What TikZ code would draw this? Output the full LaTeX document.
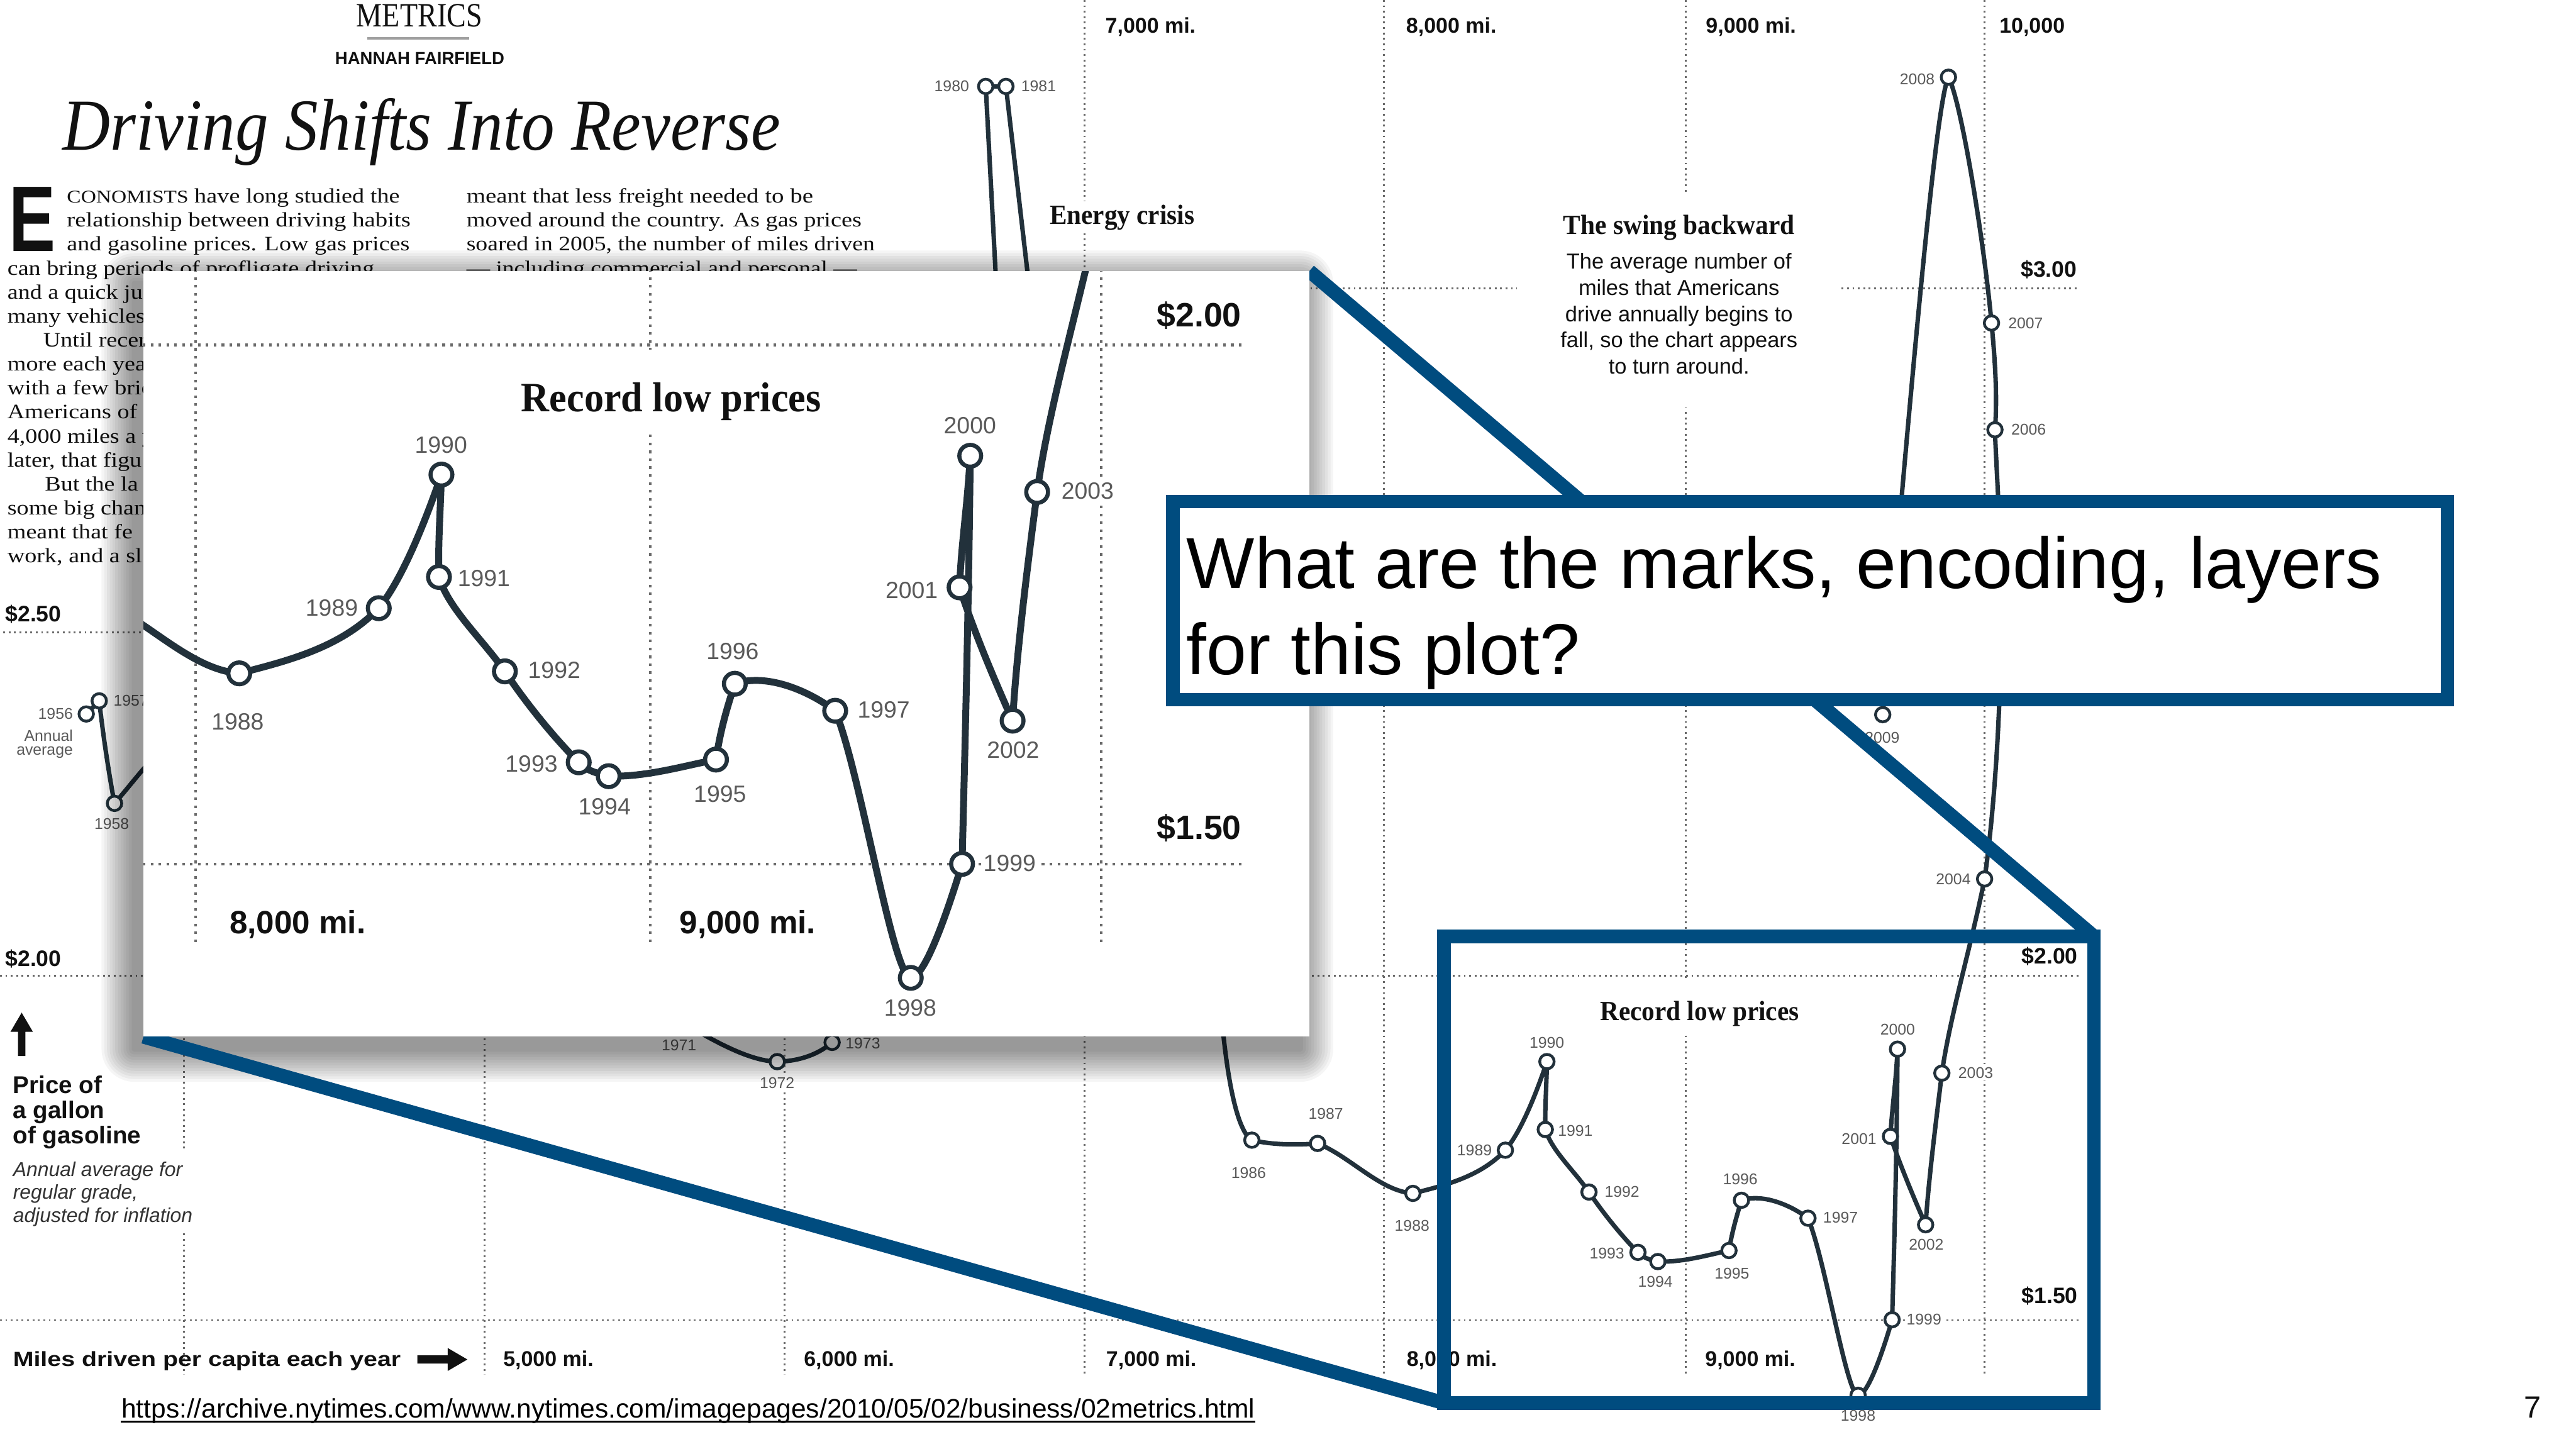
\documentclass[tikz,border=0pt]{standalone}
\usepackage{fontspec}
\usepackage{graphicx}
\setmainfont{Liberation Serif}
\newfontfamily\sansf{Liberation Sans}
\newfontfamily\artf[FakeStretch=1.17]{Liberation Serif}
\newlength\pxu
\setlength\pxu{0.02cm}
\newcommand\fw[2]{\resizebox{#1\pxu}{\height}{#2}}
\newcommand\fsz[1]{\fontsize{#1}{#1}\selectfont}
\definecolor{ink}{HTML}{22313B}
\definecolor{yrgray}{HTML}{5A5A5A}
\definecolor{gridc}{HTML}{6A6A6A}
\definecolor{qblue}{HTML}{004C7F}
\definecolor{txt}{HTML}{111111}
\definecolor{notec}{HTML}{333333}
\newcommand\hdfont{\bfseries\fsz{9.6}}
\newcommand\dolfont{\sansf\bfseries\fsz{7.75}}
\newcommand\mifont{\sansf\bfseries\fsz{7.4}}
\newcommand\pricefont{\sansf\bfseries\fsz{8.4}}
\newcommand\notefont{\sansf\itshape\fsz{6.95}}
\newcommand\bodyfont{\sansf\fsz{7.5}}
\newcommand\yrfont{\sansf\fsz{5.4}}
\tikzset{
  gridln/.style={draw=gridc, line width=1.1\pxu, dash pattern=on 1.1\pxu off 2.2\pxu},
  curve/.style={draw=ink, line width=2.7\pxu, line join=round, line cap=round},
  yrdot/.style={draw=ink, fill=white, line width=1.7\pxu},
  yrlab/.style={font=\yrfont, text=yrgray, fill=white, inner sep=0.8\pxu},
  lab/.style={inner sep=0, text=txt},
  art/.style={anchor=base west, inner sep=0, font={\artf\fsz{7.1}}, text=txt},
  bluerect/.style={draw=qblue, line width=8.2\pxu, inner sep=0, outer sep=0},
  conn/.style={draw=qblue, line width=8.5\pxu},
}
\newcommand\chartbody{%
  % grid lines
  \draw[gridln] (112,170) -- (112,836.6);
  \draw[gridln] (295,170) -- (295,836.6);
  \draw[gridln] (477.5,170) -- (477.5,836.6);
  \draw[gridln] (660,0) -- (660,836.6);
  \draw[gridln] (842.5,0) -- (842.5,836.6);
  \draw[gridln] (1026,0) -- (1026,836.6);
  \draw[gridln] (1208,0) -- (1208,836.6);
  \draw[gridln] (560,175.6) -- (1265,175.6);
  \draw[gridln] (2,384.8) -- (1265,384.8);
  \draw[gridln] (0,594) -- (1265,594);
  \draw[gridln] (0,803.5) -- (1265,803.5);
  % white backings of text blocks
  \fill[white] (634,122.5) rectangle (731,142);
  \fill[white] (923.5,117) rectangle (1121,248);
  \fill[white] (971,596) rectangle (1098,630);
  \fill[white] (5,700) rectangle (118,750);
  % axis and annotation texts
  \node[lab, anchor=base, font=\hdfont] (recl) at (1034.5,621) {\fw{121}{Record low prices}};
  \node[lab, anchor=base west, font=\hdfont] (energy) at (638.6,136.3) {\fw{88}{Energy crisis}};
  \node[lab, anchor=base, font=\hdfont] (swing) at (1022,142.6) {\fw{140.7}{The swing backward}};
  \node[lab, anchor=base, font=\bodyfont] (sw1) at (1022,163.7) {The average number of};
  \node[lab, anchor=base, font=\bodyfont] (sw2) at (1022,179.8) {miles that Americans};
  \node[lab, anchor=base, font=\bodyfont] (sw3) at (1022,195.8) {drive annually begins to};
  \node[lab, anchor=base, font=\bodyfont] (sw4) at (1022,211.5) {fall, so the chart appears};
  \node[lab, anchor=base, font=\bodyfont] (sw5) at (1022,227.7) {to turn around.};
  \node[lab, anchor=base east, font=\dolfont] (d300) at (1264.5,168.8) {\$3.00};
  \node[lab, anchor=base east, font=\dolfont] (d200r) at (1265,586.6) {\$2.00};
  \node[lab, anchor=base east, font=\dolfont] (d150) at (1265,793.4) {\$1.50};
  \node[lab, anchor=base west, font=\dolfont] (d250) at (2.9,378.4) {\$2.50};
  \node[lab, anchor=base west, font=\dolfont] (d200l) at (2.9,588.3) {\$2.00};
  \node[lab, anchor=base west, font=\mifont] (m5) at (306,831.5) {5,000 mi.};
  \node[lab, anchor=base west, font=\mifont] (m6) at (489,831.5) {6,000 mi.};
  \node[lab, anchor=base west, font=\mifont] (m7) at (673,831.5) {7,000 mi.};
  \node[lab, anchor=base west, font=\mifont] (m8) at (855.9,831.5) {8,000 mi.};
  \node[lab, anchor=base west, font=\mifont] (m9) at (1037.6,831.5) {9,000 mi.};
  \node[lab, anchor=base west, font=\mifont] (t7) at (672.5,20.2) {7,000 mi.};
  \node[lab, anchor=base west, font=\mifont] (t8) at (855.6,20.2) {8,000 mi.};
  \node[lab, anchor=base west, font=\mifont] (t9) at (1038,20.2) {9,000 mi.};
  \node[lab, anchor=base west, font=\mifont] (t10) at (1216.7,20.2) {10,000};
  \node[lab, anchor=base west, font={\sansf\bfseries\fsz{7.1}}] (miles) at (7.6,831.5) {\fw{236}{Miles driven per capita each year}};
  \fill[txt] (254,825) -- (272.5,825) -- (272.5,820.5) -- (284.5,827.5) -- (272.5,834.5) -- (272.5,830) -- (254,830) -- cycle;
  \fill[txt] (11,642.8) -- (11,628) -- (6.4,628) -- (13.2,616.4) -- (20,628) -- (15.5,628) -- (15.5,642.8) -- cycle;
  \node[lab, anchor=base west, font=\pricefont] (pr1) at (7.6,665.6) {Price of};
  \node[lab, anchor=base west, font=\pricefont] (pr2) at (7.6,680.7) {a gallon};
  \node[lab, anchor=base west, font=\pricefont] (pr3) at (7.6,696.2) {of gasoline};
  \node[lab, anchor=base west, font=\notefont, text=notec] (nt1) at (7.6,716) {Annual average for};
  \node[lab, anchor=base west, font=\notefont, text=notec] (nt2) at (7.6,730) {regular grade,};
  \node[lab, anchor=base west, font=\notefont, text=notec] (nt3) at (7.6,744) {adjusted for inflation};
  % year labels
  \node[yrlab, anchor=east] (n56) at (45.5,434.6) {1956};
  \node[yrlab, anchor=east] (nann) at (45.5,447.6) {Annual};
  \node[yrlab, anchor=east] (navg) at (45.5,458) {average};
  \node[yrlab, anchor=west] (n57) at (68,426.6) {1957};
  \node[yrlab] (n58) at (68,501.4) {1958};
  \node[yrlab] (n71) at (413.3,636.4) {1971};
  \node[yrlab] (n72) at (473,659) {1972};
  \node[yrlab, anchor=west] (n73) at (513.5,635) {1973};
  \node[yrlab, anchor=east] (n80) at (591,52.6) {1980};
  \node[yrlab, anchor=west] (n81) at (620.5,52.6) {1981};
  \node[yrlab] (n86) at (760,714) {1986};
  \node[yrlab] (n87) at (807,678) {1987};
  \node[yrlab] (n88) at (859.5,746) {1988};
  \node[yrlab] (n89) at (897.5,700) {1989};
  \node[yrlab] (n90) at (941.6,634.5) {1990};
  \node[yrlab] (n91) at (958.9,688.2) {1991};
  \node[yrlab] (n92) at (987.3,725.3) {1992};
  \node[yrlab] (n93) at (978.1,763.1) {1993};
  \node[yrlab] (n94) at (1007.6,780.3) {1994};
  \node[yrlab] (n95) at (1054.2,775.2) {1995};
  \node[yrlab] (n96) at (1059.3,717.6) {1996};
  \node[yrlab] (n97) at (1120.3,741.2) {1997};
  \node[yrlab] (n98) at (1131,861.6) {1998};
  \node[yrlab] (n99) at (1171.1,803.3) {1999};
  \node[yrlab] (n00) at (1155.1,626.6) {2000};
  \node[yrlab] (n01) at (1131.6,693.1) {2001};
  \node[yrlab] (n02) at (1172.5,757.5) {2002};
  \node[yrlab] (n03) at (1202.6,653) {2003};
  \node[yrlab] (n04) at (1189,535) {2004};
  \node[yrlab] (n06) at (1234.8,261.6) {2006};
  \node[yrlab] (n07) at (1233,196.6) {2007};
  \node[yrlab] (n08) at (1167,48.1) {2008};
  \node[yrlab] (n09) at (1145.7,449) {2009};
  % data points
  \coordinate (y1956) at (52.5,434.6);
  \coordinate (y1957) at (60.4,426.6);
  \coordinate (y1958) at (69.7,489);
  \coordinate (y1972) at (473.1,646.2);
  \coordinate (y1973) at (506.5,634.5);
  \coordinate (y1980) at (600,52.6);
  \coordinate (y1981) at (612.3,52.6);
  \coordinate (y1986) at (762,694);
  \coordinate (y1987) at (802,696);
  \coordinate (y1988) at (860,726.4);
  \coordinate (y1989) at (916.3,700.1);
  \coordinate (y1990) at (941.6,646.2);
  \coordinate (y1991) at (940.6,687.5);
  \coordinate (y1992) at (967.2,725.6);
  \coordinate (y1993) at (997,762.3);
  \coordinate (y1994) at (1009.1,767.9);
  \coordinate (y1995) at (1052.4,761.2);
  \coordinate (y1996) at (1060,730.6);
  \coordinate (y1997) at (1100.5,741.5);
  \coordinate (y1998) at (1131,849.3);
  \coordinate (y1999) at (1151.7,803.3);
  \coordinate (y2000) at (1155,638.6);
  \coordinate (y2001) at (1150.7,691.7);
  \coordinate (y2002) at (1172.1,745.5);
  \coordinate (y2003) at (1182,653.2);
  \coordinate (y2004) at (1208,535);
  \coordinate (y2006) at (1214.3,261.6);
  \coordinate (y2007) at (1212.2,196.6);
  \coordinate (y2008) at (1186,47);
  \coordinate (y2009) at (1146,435);
  % curves
  \draw[curve] (y1956) -- (y1957) .. controls (63,450) and (67,475) .. (y1958)
    .. controls (76,482) and (82,474) .. (90,465) -- (100,452);
  \draw[curve] (415,622) .. controls (438,636) and (458,646) .. (y1972)
    .. controls (486,646) and (498,642) .. (y1973) -- (512,626);
  \draw[curve] (606.5,175) -- (y1980) -- (y1981) -- (626.5,175);
  \draw[curve] (743,612) .. controls (746,650) and (752,688) .. (y1986)
    .. controls (775,697) and (790,697) .. (y1987)
    .. controls (822,704) and (840,725) .. (y1988)
    .. controls (880,721.4) and (901.3,716.1) .. (y1989)
    .. controls (926.3,688.1) and (935.6,664.2) .. (y1990)
    .. controls (941.4,660) and (940.3,675) .. (y1991)
    .. controls (944.6,700.5) and (958.2,712.6) .. (y1992)
    .. controls (975.2,737.6) and (987,752.3) .. (y1993)
    .. controls (1001,766.3) and (1005.1,766.9) .. (y1994)
    .. controls (1024.1,768.4) and (1038.4,764.2) .. (y1995)
    .. controls (1054.4,749.2) and (1057,740.6) .. (y1996)
    .. controls (1072,726.6) and (1088.5,732.5) .. (y1997)
    .. controls (1111,766.5) and (1124,849.3) .. (y1998)
    .. controls (1137.5,849.3) and (1147.7,817.3) .. (y1999)
    .. controls (1153,760) and (1154.6,700) .. (y2000)
    .. controls (1154,660) and (1151.5,675) .. (y2001)
    .. controls (1156.7,709.7) and (1165.1,729.5) .. (y2002)
    .. controls (1174.1,715.5) and (1179,678.2) .. (y2003)
    .. controls (1187,618.2) and (1200,575) .. (y2004)
    .. controls (1213,500) and (1218,440) .. (1218,375)
    .. controls (1218,320) and (1215,285) .. (y2006)
    .. controls (1216,240) and (1214,215) .. (y2007)
    .. controls (1208,150) and (1194,62) .. (y2008)
    .. controls (1178,62) and (1162,250) .. (y2009);
  \foreach \k in {1956,1957,1958,1972,1973,1980,1981,1986,1987,...,2004,2006,2007,2008,2009}
    {\draw[yrdot] (y\k) circle[radius=4.4];}
}
\begin{document}
\begin{tikzpicture}[x=0.02cm, y=-0.02cm]
\useasboundingbox (0,0) rectangle (1568,882);
\fill[white] (0,0) rectangle (1568,882);
% header
\node[lab, anchor=base] (metrics) at (255.3,16.4) {\fsz{11.8}\fw{76.5}{METRICS}};
\draw[draw=gray!75, line width=1.6\pxu] (223.5,23.2) -- (285.7,23.2);
\node[lab, anchor=base] (byline) at (255.5,39.4) {\sansf\bfseries\fsz{6.1}\fw{103}{HANNAH FAIRFIELD}};
\node[lab, anchor=base west] (title) at (37.8,91.3) {\itshape\fsz{25.4}\fw{437}{Driving Shifts Into Reverse}};
% article
\node[lab, anchor=base west] (dropcap) at (5.2,153) {\resizebox{28.3\pxu}{39\pxu}{\sansf\bfseries E}};
\node[art] (a1) at (40.4,123.5) {\fw{202.6}{{\fsz{6.2}CONOMISTS} have long studied the}};
\node[art] (a2) at (40.4,138.1) {\fw{209.2}{relationship between driving habits}};
\node[art] (a3) at (40.4,152.7) {\fw{208.6}{and gasoline prices. Low gas prices}};
\node[art] (a4) at (4.2,167.3) {can bring periods of profligate driving};
\node[art] (a5) at (4.2,181.9) {and a quick ju};
\node[art] (a6) at (4.2,196.5) {many vehicles};
\node[art] (a7) at (26,211.1) {Until recen};
\node[art] (a8) at (4.2,225.7) {more each yea};
\node[art] (a9) at (4.2,240.3) {with a few brie};
\node[art] (a10) at (4.2,254.9) {Americans of};
\node[art] (a11) at (4.2,269.5) {4,000 miles a y};
\node[art] (a12) at (4.2,284.1) {later, that figu};
\node[art] (a13) at (27,298.7) {But the la};
\node[art] (a14) at (4.2,313.3) {some big chan};
\node[art] (a15) at (4.2,327.9) {meant that fe};
\node[art] (a16) at (4.2,342.5) {work, and a sl};
\node[art] (b1) at (283.6,123.5) {\fw{211}{meant that less freight needed to be}};
\node[art] (b2) at (283.6,138.1) {\fw{240.5}{moved around the country. As gas prices}};
\node[art] (b3) at (283.6,152.7) {\fw{248.5}{soared in 2005, the number of miles driven}};
\node[art] (b4) at (283.6,167.3) {\fw{237.7}{— including commercial and personal —}};
% main chart
\chartbody
% highlighted region
\node[bluerect, minimum width=395.6\pxu, minimum height=284\pxu] (bigbox) at (1076.8,712) {};
% inset frame (positions)
\path node[inner sep=0, outer sep=0, minimum width=709.7\pxu, minimum height=466\pxu] (inset) at (442.15,398) {};
% soft shadow
\foreach \i in {1,...,12} {
  \pgfmathsetmacro\rr{20*\i/12}
  \fill[black, fill opacity=0.038, rounded corners=\rr*0.02cm]
    (81.8-\rr,172.5-\rr) rectangle (791.5+\rr,638.5+\rr);
}
% connectors
\draw[conn] (inset.north east) -- (bigbox.north east);
\draw[conn] (inset.south west) -- (bigbox.south west);
% inset content
\fill[white] (inset.south west) rectangle (inset.north east);
\begin{scope}
  \clip (inset.south west) rectangle (inset.north east);
  \begin{scope}[shift={(119,210)}, scale=1.508, shift={(-842.5,-594)}, transform shape,
      gridln/.style={draw=gridc, line width=1.6\pxu, dash pattern=on 1.6\pxu off 3.2\pxu},
      curve/.style={draw=ink, line width=4.2\pxu, line join=round, line cap=round},
      yrdot/.style={draw=ink, fill=white, line width=2.5\pxu}]
    \chartbody
  \end{scope}
\end{scope}
% question box
\node[bluerect, fill=white, minimum width=775.6\pxu, minimum height=120.5\pxu] (qbox) at (1101.8,365.55) {};
\node[lab, anchor=base west, font={\sansf\fsz{25}}, text=black] (q1) at (722,358.3) {What are the marks, encoding, layers};
\node[lab, anchor=base west, font={\sansf\fsz{25}}, text=black] (q2) at (722,410.5) {for this plot?};
% footer
\node[lab, anchor=base west, font={\sansf\fsz{9.26}}, text=black] (url) at (73.6,863) {https://archive.nytimes.com/www.nytimes.com/imagepages/2010/05/02/business/02metrics.html};
\draw[line width=1.1\pxu] ([yshift=-0.046cm]url.base west) -- ([yshift=-0.046cm]url.base east);
\node[lab, anchor=base west, font={\sansf\fsz{10.6}}] (pagenum) at (1536,863) {7};
\end{tikzpicture}
\end{document}
